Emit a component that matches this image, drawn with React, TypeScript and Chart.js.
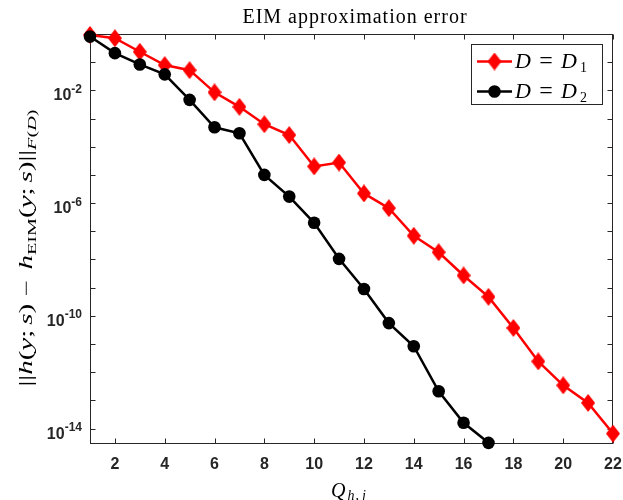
import { useEffect, useRef } from 'react';
import { Chart, registerables } from 'chart.js';

Chart.register(...registerables);

// ---- data ----
const qValues = [1, 2, 3, 4, 5, 6, 7, 8, 9, 10, 11, 12, 13, 14, 15, 16, 17, 18, 19, 20, 21, 22];
const errorD1 = [
  0.93, 0.71, 0.234, 0.079, 0.052, 8.5e-3, 2.6e-3, 6.3e-4, 2.6e-4, 2.0e-5, 2.75e-5,
  2.2e-6, 6.6e-7, 6.9e-8, 1.8e-8, 2.7e-9, 4.7e-10, 3.7e-11, 2.4e-12, 3.4e-13, 8.1e-14, 6.6e-15,
];
const errorD2 = [
  0.81, 0.209, 0.083, 0.037, 4.6e-3, 4.9e-4, 3.0e-4, 1.0e-5, 1.7e-6, 2.0e-7, 1.05e-8,
  8.9e-10, 5.5e-11, 8.3e-12, 2.1e-13, 1.6e-14, 3.1e-15,
];
const xTickValues = [2, 4, 6, 8, 10, 12, 14, 16, 18, 20, 22];
const yLabelExponents = [-2, -6, -10, -14];
const yTickExponents = [0, -1, -2, -3, -4, -5, -6, -7, -8, -9, -10, -11, -12, -13, -14];
const seriesNames = ['1', '2'];
const titleText = 'EIM approximation error';

const AXIS_COLOR = '#262626';
const SERIF = '"Liberation Serif", "DejaVu Serif", serif';
const SANS = '"Liberation Sans", Arial, sans-serif';

function makeDiamond(color: string, w: number, h: number) {
  const c = document.createElement('canvas');
  c.width = w;
  c.height = h;
  const g = c.getContext('2d')!;
  g.fillStyle = color;
  g.beginPath();
  g.moveTo(w / 2, 0);
  g.lineTo(w, h / 2);
  g.lineTo(w / 2, h);
  g.lineTo(0, h / 2);
  g.closePath();
  g.fill();
  return c;
}

type Seg = { t: string; font: string; dy?: number; gap?: number };

function segWidth(ctx: CanvasRenderingContext2D, segs: Seg[]) {
  let w = 0;
  for (const s of segs) {
    ctx.font = s.font;
    w += ctx.measureText(s.t).width + (s.gap || 0);
  }
  return w;
}

function drawSegs(ctx: CanvasRenderingContext2D, segs: Seg[], x: number, y: number) {
  let cx = x;
  for (const s of segs) {
    ctx.font = s.font;
    ctx.fillText(s.t, cx, y + (s.dy || 0));
    cx += ctx.measureText(s.t).width + (s.gap || 0);
  }
}

const axesPlugin = {
  id: 'matlabAxes',
  beforeDraw(chart: any) {
    const { ctx, width, height } = chart;
    ctx.save();
    ctx.fillStyle = '#ffffff';
    ctx.fillRect(0, 0, width, height);
    ctx.restore();
  },
  beforeDatasetsDraw(chart: any) {
    const { ctx, chartArea } = chart;
    const xs = chart.scales.x;
    const ys = chart.scales.y;
    const L = Math.round(chartArea.left) + 0.5;
    const R = Math.round(chartArea.right) - 0.5;
    const T = Math.round(chartArea.top) + 0.5;
    const B = Math.round(chartArea.bottom) - 0.5;
    ctx.save();
    ctx.strokeStyle = AXIS_COLOR;
    ctx.lineWidth = 1;
    ctx.beginPath();
    for (const v of xTickValues) {
      const px = Math.round(xs.getPixelForValue(v)) + 0.5;
      ctx.moveTo(px, B);
      ctx.lineTo(px, B - 5);
      ctx.moveTo(px, T);
      ctx.lineTo(px, T + 5);
    }
    for (const e of yTickExponents) {
      const py = Math.round(ys.getPixelForValue(Math.pow(10, e))) + 0.5;
      ctx.moveTo(L, py);
      ctx.lineTo(L + 5, py);
      ctx.moveTo(R, py);
      ctx.lineTo(R - 5, py);
    }
    ctx.stroke();
    ctx.strokeRect(L, T, R - L, B - T);
    ctx.restore();
  },
  afterDraw(chart: any) {
    const { ctx } = chart;
    const xs = chart.scales.x;
    const ys = chart.scales.y;
    ctx.save();

    // x tick labels
    ctx.fillStyle = AXIS_COLOR;
    ctx.font = `bold 16px ${SANS}`;
    ctx.textAlign = 'center';
    ctx.textBaseline = 'alphabetic';
    for (const v of xTickValues) {
      ctx.fillText(String(v), xs.getPixelForValue(v), 468.5);
    }

    // y tick labels with superscripts
    ctx.textAlign = 'left';
    const rightEdge = 82;
    for (const e of yLabelExponents) {
      const py = ys.getPixelForValue(Math.pow(10, e));
      const supText = '-' + String(Math.abs(e));
      ctx.font = `bold 12px ${SANS}`;
      const sw = ctx.measureText(supText).width;
      ctx.font = `bold 16px ${SANS}`;
      const tw = ctx.measureText('10').width;
      ctx.fillText('10', rightEdge - sw - tw, py + 10);
      ctx.font = `bold 12px ${SANS}`;
      ctx.fillText(supText, rightEdge - sw, py + 2.5);
    }

    // title
    ctx.fillStyle = '#000';
    ctx.font = `20px ${SERIF}`;
    ctx.textAlign = 'center';
    try {
      (ctx as any).letterSpacing = '1px';
    } catch (err) {}
    ctx.fillText(titleText, 355, 23);
    try {
      (ctx as any).letterSpacing = '0px';
    } catch (err) {}
    ctx.textAlign = 'left';

    // x axis label Q_{h,j}
    const it = (s: number) => `italic ${s}px ${SERIF}`;
    const rm = (s: number) => `${s}px ${SERIF}`;
    drawSegs(
      ctx,
      [
        { t: 'Q', font: it(20), gap: 2 },
        { t: 'h', font: it(14), dy: 3, gap: 1 },
        { t: ',', font: rm(14), dy: 3, gap: 3 },
        { t: 'j', font: it(14), dy: 3 },
      ],
      331,
      497
    );

    // y axis label
    const M = 18;
    const S = 12.5;
    const ySegs: Seg[] = [
      { t: '||', font: rm(M) },
      { t: 'h', font: it(M) },
      { t: '(', font: rm(M) },
      { t: 'y', font: it(M) },
      { t: ';', font: rm(M), gap: 3 },
      { t: 's', font: it(M) },
      { t: ')', font: rm(M) },
      { t: ' \u2212 ', font: rm(M), gap: 2 },
      { t: 'h', font: it(M) },
      { t: 'EIM', font: rm(S), dy: 4 },
      { t: '(', font: rm(M) },
      { t: 'y', font: it(M) },
      { t: ';', font: rm(M), gap: 3 },
      { t: 's', font: it(M) },
      { t: ')', font: rm(M) },
      { t: '||', font: rm(M) },
      { t: 'F', font: it(S), dy: 4 },
      { t: '(', font: rm(S), dy: 4 },
      { t: 'D', font: it(S), dy: 4 },
      { t: ')', font: rm(S), dy: 4 },
    ];
    const totalW = segWidth(ctx, ySegs);
    ctx.save();
    ctx.translate(32, 248);
    ctx.rotate(-Math.PI / 2);
    const sx = 277 / totalW;
    ctx.scale(sx, 1);
    drawSegs(ctx, ySegs, -totalW / 2, 0);
    ctx.restore();

    // legend
    const bx = 471.5;
    const by = 44.5;
    const bw = 131;
    const bh = 60;
    ctx.fillStyle = '#fff';
    ctx.fillRect(bx, by, bw, bh);
    ctx.strokeStyle = AXIS_COLOR;
    ctx.lineWidth = 1;
    ctx.strokeRect(bx, by, bw, bh);
    const rows = [61.5, 91.5];
    const datasets = chart.data.datasets;
    for (let i = 0; i < 2; i++) {
      const ds = datasets[i];
      const ry = rows[i];
      ctx.strokeStyle = ds.borderColor;
      ctx.lineWidth = 2.5;
      ctx.beginPath();
      ctx.moveTo(477, ry);
      ctx.lineTo(512, ry);
      ctx.stroke();
      if (ds.pointStyle instanceof HTMLCanvasElement) {
        const img = ds.pointStyle as HTMLCanvasElement;
        ctx.drawImage(img, 494.5 - img.width / 2, ry - img.height / 2);
      } else {
        ctx.fillStyle = ds.pointBackgroundColor;
        ctx.beginPath();
        ctx.arc(494.5, ry, 6.3, 0, Math.PI * 2);
        ctx.fill();
      }
      ctx.fillStyle = '#000';
      const base = ry + 6;
      ctx.font = it(22);
      ctx.fillText('D', 515, base);
      ctx.font = rm(24);
      ctx.textAlign = 'center';
      ctx.fillText('=', 546, base);
      ctx.textAlign = 'left';
      ctx.font = it(22);
      ctx.fillText('D', 561, base);
      ctx.font = rm(14);
      ctx.fillText(seriesNames[i], 580, base + 4);
    }

    ctx.restore();
  },
};

export default function App() {
  const canvasRef = useRef<HTMLCanvasElement | null>(null);

  useEffect(() => {
    const canvas = canvasRef.current;
    if (!canvas) return;
    const diamond = makeDiamond('#ff0000', 14, 18);
    const chart = new Chart(canvas, {
      type: 'line',
      data: {
        datasets: [
          {
            label: 'D = D1',
            data: qValues.map((q, i) => ({ x: q, y: errorD1[i] })),
            borderColor: '#ff0000',
            backgroundColor: '#ff0000',
            borderWidth: 2.5,
            pointStyle: diamond as any,
            pointBackgroundColor: '#ff0000',
            pointRadius: 7,
            pointBorderWidth: 0,
            tension: 0,
            clip: false as any,
            order: 2,
          },
          {
            label: 'D = D2',
            data: errorD2.map((v, i) => ({ x: qValues[i], y: v })),
            borderColor: '#000000',
            backgroundColor: '#000000',
            borderWidth: 2.5,
            pointStyle: 'circle',
            pointBackgroundColor: '#000000',
            pointRadius: 6.3,
            pointBorderWidth: 0,
            tension: 0,
            clip: false as any,
            order: 1,
          },
        ],
      },
      options: {
        animation: false,
        responsive: false,
        devicePixelRatio: 1,
        layout: { padding: { left: 90, right: 10, top: 34, bottom: 56 } },
        scales: {
          x: { type: 'linear', min: 1, max: 22, display: false },
          y: { type: 'logarithmic', min: Math.pow(10, -14.55), max: 1, display: false },
        },
        plugins: {
          legend: { display: false },
          title: { display: false },
          tooltip: { enabled: false },
        },
        events: [],
      },
      plugins: [axesPlugin],
    });
    return () => chart.destroy();
  }, []);

  return (
    <div style={{ position: 'fixed', left: 0, top: 0, width: 623, height: 500, background: '#fff' }}>
      <canvas ref={canvasRef} width={623} height={500} style={{ width: 623, height: 500, display: 'block' }} />
    </div>
  );
}
